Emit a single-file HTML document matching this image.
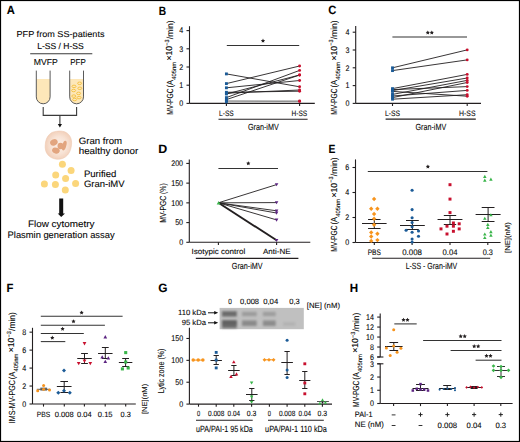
<!DOCTYPE html><html><head><meta charset="utf-8"><style>html,body{margin:0;padding:0;background:#fff;}svg{display:block;}text{font-family:"Liberation Sans", sans-serif;text-rendering:geometricPrecision;stroke:#231f20;stroke-width:0.1px;}</style></head><body>
<svg width="520" height="442" viewBox="0 0 520 442">
<rect x="0" y="0" width="520" height="442" fill="#fff"/>
<text x="6.82" y="14.4" font-size="12" font-weight="bold" textLength="8.08" lengthAdjust="spacingAndGlyphs">A</text>
<text x="60.5" y="36.9" font-size="8.6" text-anchor="middle" textLength="88" lengthAdjust="spacingAndGlyphs">PFP from SS-patients</text>
<text x="60.5" y="48.6" font-size="8.6" text-anchor="middle" textLength="46.5" lengthAdjust="spacingAndGlyphs">L-SS / H-SS</text>
<line x1="30.2" y1="53.8" x2="92.3" y2="53.8" stroke="#3a3a3a" stroke-width="1.1"/>
<text x="45.7" y="65.2" font-size="8.6" text-anchor="middle" textLength="24" lengthAdjust="spacingAndGlyphs">MVFP</text>
<text x="78" y="65.2" font-size="8.6" text-anchor="middle" textLength="15.5" lengthAdjust="spacingAndGlyphs">PFP</text>
<path d="M36.3 79L36.3 96.9A6.9 6.9 0 0 0 50.1 96.9L50.1 79Z" fill="#fde7b9"/>
<path d="M36.3 70.6L36.3 96.9A6.9 6.9 0 0 0 50.1 96.9L50.1 70.6" fill="none" stroke="#5a5a5a" stroke-width="1"/>
<path d="M69.7 79L69.7 96.9A6.9 6.9 0 0 0 83.5 96.9L83.5 79Z" fill="#fde7b9"/>
<path d="M69.7 70.6L69.7 96.9A6.9 6.9 0 0 0 83.5 96.9L83.5 70.6" fill="none" stroke="#5a5a5a" stroke-width="1"/>
<ellipse cx="79.6" cy="83.3" rx="2.0" ry="1.25" fill="none" stroke="#f3bd36" stroke-width="0.85"/>
<ellipse cx="74" cy="86.4" rx="2.0" ry="1.25" fill="none" stroke="#f3bd36" stroke-width="0.85"/>
<ellipse cx="79.8" cy="88.3" rx="2.0" ry="1.25" fill="none" stroke="#f3bd36" stroke-width="0.85"/>
<ellipse cx="73.6" cy="90.5" rx="2.0" ry="1.25" fill="none" stroke="#f3bd36" stroke-width="0.85"/>
<ellipse cx="78.6" cy="93.4" rx="2.0" ry="1.25" fill="none" stroke="#f3bd36" stroke-width="0.85"/>
<ellipse cx="73.8" cy="96.1" rx="2.0" ry="1.25" fill="none" stroke="#f3bd36" stroke-width="0.85"/>
<ellipse cx="79.1" cy="97.6" rx="2.0" ry="1.25" fill="none" stroke="#f3bd36" stroke-width="0.85"/>
<ellipse cx="74.7" cy="99.5" rx="2.0" ry="1.25" fill="none" stroke="#f3bd36" stroke-width="0.85"/>
<path d="M43.2 107V115.4H76.6V107M59.9 115.4V124.2" fill="none" stroke="#3a3a3a" stroke-width="1.1"/>
<path d="M57.8 124H62L59.9 127.6Z" fill="#111"/>
<defs><radialGradient id="cg" cx="0.52" cy="0.5" r="0.55"><stop offset="0" stop-color="#fcf1ea"/><stop offset="0.55" stop-color="#f8e3d5"/><stop offset="1" stop-color="#f1cdb6"/></radialGradient><filter id="cb" x="-10%" y="-10%" width="120%" height="120%"><feGaussianBlur stdDeviation="0.35"/></filter></defs>
<path d="M56 131.4C60 130.6 64.5 131 67.5 133.4C70.5 135.8 71.8 139.5 71.6 143.2C71.4 147.5 70.4 151.8 67.6 155C64.8 158.2 60.6 159.6 56.6 159.2C52.4 158.8 48.6 156.6 46.6 153C44.8 149.8 45 145.6 45.6 141.8C46.4 137.8 48.6 134.4 51.8 132.6C53.1 131.9 54.5 131.6 56 131.4Z" fill="url(#cg)" stroke="#efcab2" stroke-width="0.6" filter="url(#cb)"/>
<g filter="url(#cb)" fill="#e2a57f">
<ellipse cx="53.9" cy="142.4" rx="3.9" ry="3.1" transform="rotate(-25 53.9 142.4)"/>
<ellipse cx="55.9" cy="150.6" rx="3.9" ry="2.9" transform="rotate(15 55.9 150.6)"/>
<ellipse cx="60.5" cy="146" rx="3" ry="3.2" transform="rotate(0 60.5 146)"/>
<ellipse cx="64.3" cy="145.6" rx="2" ry="5" transform="rotate(15 64.3 145.6)"/>
</g>
<text x="78.7" y="143.9" font-size="9.4" textLength="43.4" lengthAdjust="spacingAndGlyphs">Gran from</text>
<text x="78.7" y="154.3" font-size="9.4" textLength="59.6" lengthAdjust="spacingAndGlyphs">healthy donor</text>
<circle cx="62.4" cy="164.3" r="3.5" fill="#fbd67b"/>
<circle cx="71.1" cy="170.4" r="3.5" fill="#fbd67b"/>
<circle cx="55.7" cy="174.9" r="3.5" fill="#fbd67b"/>
<circle cx="65.6" cy="178.6" r="3.5" fill="#fbd67b"/>
<circle cx="44.4" cy="184" r="3.5" fill="#fbd67b"/>
<circle cx="55.4" cy="184.6" r="3.5" fill="#fbd67b"/>
<circle cx="75.6" cy="183.4" r="3.5" fill="#fbd67b"/>
<circle cx="65.3" cy="190.1" r="3.5" fill="#fbd67b"/>
<text x="83.9" y="176.6" font-size="9.4" textLength="32.4" lengthAdjust="spacingAndGlyphs">Purified</text>
<text x="83.9" y="187.4" font-size="9.4" textLength="40.6" lengthAdjust="spacingAndGlyphs">Gran-iMV</text>
<path d="M59.2 198.4H63.2V213.4H65L61.2 216.9L57.7 213.4H59.2Z" fill="#111"/>
<text x="61.2" y="226.9" font-size="9.3" text-anchor="middle" textLength="66.5" lengthAdjust="spacingAndGlyphs">Flow cytometry</text>
<text x="61.1" y="237.6" font-size="9.3" text-anchor="middle" textLength="107" lengthAdjust="spacingAndGlyphs">Plasmin generation assay</text>
<text x="158.82" y="14.5" font-size="12" font-weight="bold" textLength="7.35" lengthAdjust="spacingAndGlyphs">B</text>
<line x1="189.5" y1="26.2" x2="189.5" y2="103.4" stroke="#231f20" stroke-width="1.1"/>
<line x1="186.5" y1="103.4" x2="189.5" y2="103.4" stroke="#231f20" stroke-width="1.1"/>
<text x="183.3" y="106.2" font-size="8.2" text-anchor="end" textLength="3.97" lengthAdjust="spacingAndGlyphs">0</text>
<line x1="186.5" y1="85.2" x2="189.5" y2="85.2" stroke="#231f20" stroke-width="1.1"/>
<text x="183.3" y="88" font-size="8.2" text-anchor="end" textLength="3.97" lengthAdjust="spacingAndGlyphs">1</text>
<line x1="186.5" y1="67" x2="189.5" y2="67" stroke="#231f20" stroke-width="1.1"/>
<text x="183.3" y="69.8" font-size="8.2" text-anchor="end" textLength="3.97" lengthAdjust="spacingAndGlyphs">2</text>
<line x1="186.5" y1="48.8" x2="189.5" y2="48.8" stroke="#231f20" stroke-width="1.1"/>
<text x="183.3" y="51.6" font-size="8.2" text-anchor="end" textLength="3.97" lengthAdjust="spacingAndGlyphs">3</text>
<line x1="186.5" y1="30.6" x2="189.5" y2="30.6" stroke="#231f20" stroke-width="1.1"/>
<text x="183.3" y="33.4" font-size="8.2" text-anchor="end" textLength="3.97" lengthAdjust="spacingAndGlyphs">4</text>
<line x1="189.5" y1="103.4" x2="314.8" y2="103.4" stroke="#231f20" stroke-width="1.1"/>
<line x1="226.4" y1="103.4" x2="226.4" y2="106" stroke="#231f20" stroke-width="1.1"/>
<line x1="299.6" y1="103.4" x2="299.6" y2="106" stroke="#231f20" stroke-width="1.1"/>
<text x="172.6" y="114.7" font-size="8.8" transform="rotate(-90 172.6 114.7)" textLength="26.2" lengthAdjust="spacingAndGlyphs">MV-PGC</text>
<text x="172.6" y="87.5" font-size="8.8" transform="rotate(-90 172.6 87.5)" textLength="7.6" lengthAdjust="spacingAndGlyphs">(A</text>
<text x="176" y="79.8" font-size="6" transform="rotate(-90 176 79.8)" textLength="18" lengthAdjust="spacingAndGlyphs">405nm</text>
<text x="172.3" y="60.6" font-size="8.8" transform="rotate(-90 172.3 60.6)" textLength="14.5" lengthAdjust="spacingAndGlyphs">×10</text>
<text x="169.2" y="45.7" font-size="6" transform="rotate(-90 169.2 45.7)" textLength="6.3" lengthAdjust="spacingAndGlyphs">−3</text>
<text x="172.6" y="39.2" font-size="8.8" transform="rotate(-90 172.6 39.2)" textLength="18.8" lengthAdjust="spacingAndGlyphs">/min)</text>
<line x1="226.8" y1="45.4" x2="299.2" y2="45.4" stroke="#333" stroke-width="1.05"/>
<polygon points="263,38.6 263.65,39.91 265.09,40.12 264.05,41.14 264.29,42.58 263,41.9 261.71,42.58 261.95,41.14 260.91,40.12 262.35,39.91" fill="#231f20"/>
<text x="226.4" y="115.6" font-size="7.8" text-anchor="middle" textLength="14.6" lengthAdjust="spacingAndGlyphs">L-SS</text>
<text x="299.4" y="115.6" font-size="7.8" text-anchor="middle" textLength="15.6" lengthAdjust="spacingAndGlyphs">H-SS</text>
<line x1="218.5" y1="119.2" x2="307.6" y2="119.2" stroke="#231f20" stroke-width="1.1"/>
<text x="263.3" y="129.8" font-size="9" text-anchor="middle" textLength="30.8" lengthAdjust="spacingAndGlyphs">Gran-iMV</text>
<line x1="226.4" y1="73.9" x2="299.6" y2="86.8" stroke="#231f20" stroke-width="0.9"/>
<line x1="226.4" y1="83.6" x2="299.6" y2="66" stroke="#231f20" stroke-width="0.9"/>
<line x1="226.4" y1="87.8" x2="299.6" y2="80.5" stroke="#231f20" stroke-width="0.9"/>
<line x1="226.4" y1="92.3" x2="299.6" y2="91.2" stroke="#231f20" stroke-width="0.9"/>
<line x1="226.4" y1="93.2" x2="299.6" y2="90" stroke="#231f20" stroke-width="0.9"/>
<line x1="226.4" y1="94" x2="299.6" y2="75" stroke="#231f20" stroke-width="0.9"/>
<line x1="226.4" y1="97.6" x2="299.6" y2="70.4" stroke="#231f20" stroke-width="0.9"/>
<line x1="226.4" y1="99.6" x2="299.6" y2="75" stroke="#231f20" stroke-width="0.9"/>
<line x1="226.4" y1="100.8" x2="299.6" y2="101" stroke="#8a8a8a" stroke-width="0.9"/>
<line x1="226.4" y1="101.8" x2="299.6" y2="101.4" stroke="#8a8a8a" stroke-width="0.9"/>
<rect x="224.97" y="72.47" width="2.86" height="2.86" fill="#1b5b97"/>
<rect x="224.97" y="82.17" width="2.86" height="2.86" fill="#1b5b97"/>
<rect x="224.97" y="86.37" width="2.86" height="2.86" fill="#1b5b97"/>
<rect x="224.97" y="90.87" width="2.86" height="2.86" fill="#1b5b97"/>
<rect x="224.97" y="91.77" width="2.86" height="2.86" fill="#1b5b97"/>
<rect x="224.97" y="92.57" width="2.86" height="2.86" fill="#1b5b97"/>
<rect x="224.97" y="96.17" width="2.86" height="2.86" fill="#1b5b97"/>
<rect x="224.97" y="98.17" width="2.86" height="2.86" fill="#1b5b97"/>
<rect x="224.97" y="99.37" width="2.86" height="2.86" fill="#1b5b97"/>
<rect x="224.97" y="100.37" width="2.86" height="2.86" fill="#1b5b97"/>
<circle cx="299.6" cy="86.8" r="1.45" fill="#c8102e"/>
<circle cx="299.6" cy="66" r="1.45" fill="#c8102e"/>
<circle cx="299.6" cy="80.5" r="1.45" fill="#c8102e"/>
<circle cx="299.6" cy="91.2" r="1.45" fill="#c8102e"/>
<circle cx="299.6" cy="90" r="1.45" fill="#c8102e"/>
<circle cx="299.6" cy="75" r="1.45" fill="#c8102e"/>
<circle cx="299.6" cy="70.4" r="1.45" fill="#c8102e"/>
<circle cx="299.6" cy="75" r="1.45" fill="#c8102e"/>
<circle cx="299.6" cy="101" r="1.45" fill="#c8102e"/>
<circle cx="299.6" cy="101.4" r="1.45" fill="#c8102e"/>
<text x="328.24" y="14.4" font-size="12" font-weight="bold" textLength="8.07" lengthAdjust="spacingAndGlyphs">C</text>
<line x1="355.7" y1="26" x2="355.7" y2="103.4" stroke="#231f20" stroke-width="1.1"/>
<line x1="352.7" y1="103.4" x2="355.7" y2="103.4" stroke="#231f20" stroke-width="1.1"/>
<text x="349.5" y="106.2" font-size="8.2" text-anchor="end" textLength="3.97" lengthAdjust="spacingAndGlyphs">0</text>
<line x1="352.7" y1="85.6" x2="355.7" y2="85.6" stroke="#231f20" stroke-width="1.1"/>
<text x="349.5" y="88.4" font-size="8.2" text-anchor="end" textLength="3.97" lengthAdjust="spacingAndGlyphs">1</text>
<line x1="352.7" y1="67.8" x2="355.7" y2="67.8" stroke="#231f20" stroke-width="1.1"/>
<text x="349.5" y="70.6" font-size="8.2" text-anchor="end" textLength="3.97" lengthAdjust="spacingAndGlyphs">2</text>
<line x1="352.7" y1="50" x2="355.7" y2="50" stroke="#231f20" stroke-width="1.1"/>
<text x="349.5" y="52.8" font-size="8.2" text-anchor="end" textLength="3.97" lengthAdjust="spacingAndGlyphs">3</text>
<line x1="352.7" y1="32.2" x2="355.7" y2="32.2" stroke="#231f20" stroke-width="1.1"/>
<text x="349.5" y="35" font-size="8.2" text-anchor="end" textLength="3.97" lengthAdjust="spacingAndGlyphs">4</text>
<line x1="355.7" y1="103.4" x2="481" y2="103.4" stroke="#231f20" stroke-width="1.1"/>
<line x1="392.5" y1="103.4" x2="392.5" y2="106" stroke="#231f20" stroke-width="1.1"/>
<line x1="467.2" y1="103.4" x2="467.2" y2="106" stroke="#231f20" stroke-width="1.1"/>
<text x="336.9" y="114.7" font-size="8.8" transform="rotate(-90 336.9 114.7)" textLength="26.2" lengthAdjust="spacingAndGlyphs">MV-PGC</text>
<text x="336.9" y="87.5" font-size="8.8" transform="rotate(-90 336.9 87.5)" textLength="7.6" lengthAdjust="spacingAndGlyphs">(A</text>
<text x="340.3" y="79.8" font-size="6" transform="rotate(-90 340.3 79.8)" textLength="18" lengthAdjust="spacingAndGlyphs">405nm</text>
<text x="336.6" y="60.6" font-size="8.8" transform="rotate(-90 336.6 60.6)" textLength="14.5" lengthAdjust="spacingAndGlyphs">×10</text>
<text x="333.5" y="45.7" font-size="6" transform="rotate(-90 333.5 45.7)" textLength="6.3" lengthAdjust="spacingAndGlyphs">−3</text>
<text x="336.9" y="39.2" font-size="8.8" transform="rotate(-90 336.9 39.2)" textLength="18.8" lengthAdjust="spacingAndGlyphs">/min)</text>
<line x1="392.4" y1="36.9" x2="467" y2="36.9" stroke="#333" stroke-width="1.05"/>
<polygon points="427.8,30.4 428.45,31.71 429.89,31.92 428.85,32.94 429.09,34.38 427.8,33.7 426.51,34.38 426.75,32.94 425.71,31.92 427.15,31.71" fill="#231f20"/>
<polygon points="431.8,30.4 432.45,31.71 433.89,31.92 432.85,32.94 433.09,34.38 431.8,33.7 430.51,34.38 430.75,32.94 429.71,31.92 431.15,31.71" fill="#231f20"/>
<text x="392.5" y="115.6" font-size="7.8" text-anchor="middle" textLength="15" lengthAdjust="spacingAndGlyphs">L-SS</text>
<text x="467.3" y="115.6" font-size="7.8" text-anchor="middle" textLength="16.4" lengthAdjust="spacingAndGlyphs">H-SS</text>
<line x1="385.6" y1="119.1" x2="475.8" y2="119.1" stroke="#231f20" stroke-width="1.1"/>
<text x="430.8" y="129.8" font-size="9" text-anchor="middle" textLength="30.8" lengthAdjust="spacingAndGlyphs">Gran-iMV</text>
<line x1="392.5" y1="67.8" x2="467.2" y2="49.9" stroke="#231f20" stroke-width="0.9"/>
<line x1="392.5" y1="70.6" x2="467.2" y2="59.9" stroke="#231f20" stroke-width="0.9"/>
<line x1="392.5" y1="88.6" x2="467.2" y2="74.4" stroke="#231f20" stroke-width="0.9"/>
<line x1="392.5" y1="89.6" x2="467.2" y2="86.6" stroke="#231f20" stroke-width="0.9"/>
<line x1="392.5" y1="90.6" x2="467.2" y2="78" stroke="#231f20" stroke-width="0.9"/>
<line x1="392.5" y1="91.4" x2="467.2" y2="96.2" stroke="#231f20" stroke-width="0.9"/>
<line x1="392.5" y1="94.4" x2="467.2" y2="80.4" stroke="#231f20" stroke-width="0.9"/>
<line x1="392.5" y1="96" x2="467.2" y2="90.4" stroke="#231f20" stroke-width="0.9"/>
<line x1="392.5" y1="97.6" x2="467.2" y2="82.5" stroke="#231f20" stroke-width="0.9"/>
<line x1="392.5" y1="99.2" x2="467.2" y2="94.7" stroke="#231f20" stroke-width="0.9"/>
<rect x="391.07" y="66.37" width="2.86" height="2.86" fill="#1b5b97"/>
<rect x="391.07" y="69.17" width="2.86" height="2.86" fill="#1b5b97"/>
<rect x="391.07" y="87.17" width="2.86" height="2.86" fill="#1b5b97"/>
<rect x="391.07" y="88.17" width="2.86" height="2.86" fill="#1b5b97"/>
<rect x="391.07" y="89.17" width="2.86" height="2.86" fill="#1b5b97"/>
<rect x="391.07" y="89.97" width="2.86" height="2.86" fill="#1b5b97"/>
<rect x="391.07" y="92.97" width="2.86" height="2.86" fill="#1b5b97"/>
<rect x="391.07" y="94.57" width="2.86" height="2.86" fill="#1b5b97"/>
<rect x="391.07" y="96.17" width="2.86" height="2.86" fill="#1b5b97"/>
<rect x="391.07" y="97.77" width="2.86" height="2.86" fill="#1b5b97"/>
<circle cx="467.2" cy="49.9" r="1.45" fill="#c8102e"/>
<circle cx="467.2" cy="59.9" r="1.45" fill="#c8102e"/>
<circle cx="467.2" cy="74.4" r="1.45" fill="#c8102e"/>
<circle cx="467.2" cy="86.6" r="1.45" fill="#c8102e"/>
<circle cx="467.2" cy="78" r="1.45" fill="#c8102e"/>
<circle cx="467.2" cy="96.2" r="1.45" fill="#c8102e"/>
<circle cx="467.2" cy="80.4" r="1.45" fill="#c8102e"/>
<circle cx="467.2" cy="90.4" r="1.45" fill="#c8102e"/>
<circle cx="467.2" cy="82.5" r="1.45" fill="#c8102e"/>
<circle cx="467.2" cy="94.7" r="1.45" fill="#c8102e"/>
<text x="158.27" y="153.1" font-size="12" font-weight="bold" textLength="8.97" lengthAdjust="spacingAndGlyphs">D</text>
<line x1="189.3" y1="159.4" x2="189.3" y2="242.3" stroke="#231f20" stroke-width="1.1"/>
<line x1="186.3" y1="242.3" x2="189.3" y2="242.3" stroke="#231f20" stroke-width="1.1"/>
<text x="183.1" y="245.1" font-size="8.2" text-anchor="end" textLength="3.97" lengthAdjust="spacingAndGlyphs">0</text>
<line x1="186.3" y1="222.58" x2="189.3" y2="222.58" stroke="#231f20" stroke-width="1.1"/>
<text x="183.1" y="225.38" font-size="8.2" text-anchor="end" textLength="7.93" lengthAdjust="spacingAndGlyphs">50</text>
<line x1="186.3" y1="202.86" x2="189.3" y2="202.86" stroke="#231f20" stroke-width="1.1"/>
<text x="183.1" y="205.66" font-size="8.2" text-anchor="end" textLength="11.9" lengthAdjust="spacingAndGlyphs">100</text>
<line x1="186.3" y1="183.14" x2="189.3" y2="183.14" stroke="#231f20" stroke-width="1.1"/>
<text x="183.1" y="185.94" font-size="8.2" text-anchor="end" textLength="11.9" lengthAdjust="spacingAndGlyphs">150</text>
<line x1="186.3" y1="163.42" x2="189.3" y2="163.42" stroke="#231f20" stroke-width="1.1"/>
<text x="183.1" y="166.22" font-size="8.2" text-anchor="end" textLength="11.9" lengthAdjust="spacingAndGlyphs">200</text>
<line x1="189.3" y1="242.3" x2="310.3" y2="242.3" stroke="#231f20" stroke-width="1.1"/>
<line x1="218.4" y1="242.3" x2="218.4" y2="244.9" stroke="#231f20" stroke-width="1.1"/>
<line x1="276.6" y1="242.3" x2="276.6" y2="244.9" stroke="#231f20" stroke-width="1.1"/>
<text x="166.1" y="222.7" font-size="8.8" transform="rotate(-90 166.1 222.7)" textLength="39.4" lengthAdjust="spacingAndGlyphs">MV-PGC (%)</text>
<line x1="218.4" y1="168.5" x2="278" y2="168.5" stroke="#333" stroke-width="1.05"/>
<polygon points="248.3,161.2 248.95,162.51 250.39,162.72 249.35,163.74 249.59,165.18 248.3,164.5 247.01,165.18 247.25,163.74 246.21,162.72 247.65,162.51" fill="#231f20"/>
<text x="218.3" y="254.3" font-size="7.7" text-anchor="middle" textLength="53.8" lengthAdjust="spacingAndGlyphs">Isotypic control</text>
<text x="276.8" y="254.4" font-size="7.7" text-anchor="middle" textLength="27.6" lengthAdjust="spacingAndGlyphs">Anti-NE</text>
<line x1="195.8" y1="258.4" x2="298.4" y2="258.4" stroke="#231f20" stroke-width="1.1"/>
<text x="247.2" y="269.3" font-size="9" text-anchor="middle" textLength="30.8" lengthAdjust="spacingAndGlyphs">Gran-iMV</text>
<line x1="218.4" y1="202.8" x2="276.6" y2="184.6" stroke="#231f20" stroke-width="0.9"/>
<line x1="218.4" y1="202.8" x2="276.6" y2="202.6" stroke="#231f20" stroke-width="0.9"/>
<line x1="218.4" y1="202.8" x2="276.6" y2="210.8" stroke="#231f20" stroke-width="0.9"/>
<line x1="218.4" y1="202.8" x2="276.6" y2="213" stroke="#231f20" stroke-width="0.9"/>
<line x1="218.4" y1="202.8" x2="276.6" y2="219.9" stroke="#231f20" stroke-width="0.9"/>
<line x1="218.4" y1="202.8" x2="276.6" y2="240.3" stroke="#231f20" stroke-width="1.9"/>
<path d="M274.84 183.19L278.36 183.19L276.6 186.36Z" fill="#5c2482"/>
<path d="M274.84 201.19L278.36 201.19L276.6 204.36Z" fill="#5c2482"/>
<path d="M274.84 209.39L278.36 209.39L276.6 212.56Z" fill="#5c2482"/>
<path d="M274.84 211.59L278.36 211.59L276.6 214.76Z" fill="#5c2482"/>
<path d="M274.84 218.49L278.36 218.49L276.6 221.66Z" fill="#5c2482"/>
<path d="M274.84 238.89L278.36 238.89L276.6 242.06Z" fill="#5c2482"/>
<path d="M218.6 201.07L220.53 204.54L216.67 204.54Z" fill="#39b54a"/>
<text x="328.41" y="153.1" font-size="12" font-weight="bold" textLength="6.91" lengthAdjust="spacingAndGlyphs">E</text>
<line x1="355.5" y1="159.4" x2="355.5" y2="242.5" stroke="#231f20" stroke-width="1.1"/>
<line x1="352.5" y1="242.5" x2="355.5" y2="242.5" stroke="#231f20" stroke-width="1.1"/>
<text x="349.3" y="245.3" font-size="8.2" text-anchor="end" textLength="3.97" lengthAdjust="spacingAndGlyphs">0</text>
<line x1="352.5" y1="217.5" x2="355.5" y2="217.5" stroke="#231f20" stroke-width="1.1"/>
<text x="349.3" y="220.3" font-size="8.2" text-anchor="end" textLength="3.97" lengthAdjust="spacingAndGlyphs">2</text>
<line x1="352.5" y1="192.5" x2="355.5" y2="192.5" stroke="#231f20" stroke-width="1.1"/>
<text x="349.3" y="195.3" font-size="8.2" text-anchor="end" textLength="3.97" lengthAdjust="spacingAndGlyphs">4</text>
<line x1="352.5" y1="167.5" x2="355.5" y2="167.5" stroke="#231f20" stroke-width="1.1"/>
<text x="349.3" y="170.3" font-size="8.2" text-anchor="end" textLength="3.97" lengthAdjust="spacingAndGlyphs">6</text>
<line x1="355.5" y1="242.5" x2="500.6" y2="242.5" stroke="#231f20" stroke-width="1.1"/>
<line x1="374.3" y1="242.5" x2="374.3" y2="245.1" stroke="#231f20" stroke-width="1.1"/>
<line x1="412.1" y1="242.5" x2="412.1" y2="245.1" stroke="#231f20" stroke-width="1.1"/>
<line x1="450" y1="242.5" x2="450" y2="245.1" stroke="#231f20" stroke-width="1.1"/>
<line x1="487.8" y1="242.5" x2="487.8" y2="245.1" stroke="#231f20" stroke-width="1.1"/>
<text x="336.9" y="251.7" font-size="8.8" transform="rotate(-90 336.9 251.7)" textLength="26.2" lengthAdjust="spacingAndGlyphs">MV-PGC</text>
<text x="336.9" y="224.5" font-size="8.8" transform="rotate(-90 336.9 224.5)" textLength="7.6" lengthAdjust="spacingAndGlyphs">(A</text>
<text x="340.3" y="216.8" font-size="6" transform="rotate(-90 340.3 216.8)" textLength="18" lengthAdjust="spacingAndGlyphs">405nm</text>
<text x="336.6" y="197.6" font-size="8.8" transform="rotate(-90 336.6 197.6)" textLength="14.5" lengthAdjust="spacingAndGlyphs">×10</text>
<text x="333.5" y="182.7" font-size="6" transform="rotate(-90 333.5 182.7)" textLength="6.3" lengthAdjust="spacingAndGlyphs">−3</text>
<text x="336.9" y="176.2" font-size="8.8" transform="rotate(-90 336.9 176.2)" textLength="18.8" lengthAdjust="spacingAndGlyphs">/min)</text>
<line x1="367.8" y1="171.4" x2="487.4" y2="171.4" stroke="#333" stroke-width="1.05"/>
<polygon points="427.9,164.4 428.55,165.71 429.99,165.92 428.95,166.94 429.19,168.38 427.9,167.7 426.61,168.38 426.85,166.94 425.81,165.92 427.25,165.71" fill="#231f20"/>
<text x="374.3" y="254.6" font-size="8" text-anchor="middle" textLength="13.2" lengthAdjust="spacingAndGlyphs">PBS</text>
<text x="412.1" y="254.6" font-size="8" text-anchor="middle" textLength="19.8" lengthAdjust="spacingAndGlyphs">0.008</text>
<text x="450" y="254.6" font-size="8" text-anchor="middle" textLength="15" lengthAdjust="spacingAndGlyphs">0.04</text>
<text x="487.8" y="254.6" font-size="8" text-anchor="middle" textLength="10.2" lengthAdjust="spacingAndGlyphs">0.3</text>
<line x1="372.2" y1="258.3" x2="490.2" y2="258.3" stroke="#231f20" stroke-width="1.1"/>
<text x="431.4" y="269.4" font-size="9" text-anchor="middle" textLength="51.5" lengthAdjust="spacingAndGlyphs">L-SS -  Gran-iMV</text>
<text x="510.3" y="253" font-size="7.2" transform="rotate(-90 510.3 253)" textLength="30.8" lengthAdjust="spacingAndGlyphs">[NE](nM)</text>
<line x1="362" y1="223.5" x2="386.6" y2="223.5" stroke="#231f20" stroke-width="1"/>
<line x1="368.05" y1="219.5" x2="380.55" y2="219.5" stroke="#231f20" stroke-width="1"/>
<line x1="368.05" y1="228.5" x2="380.55" y2="228.5" stroke="#231f20" stroke-width="1"/>
<line x1="374.3" y1="219.5" x2="374.3" y2="228.5" stroke="#231f20" stroke-width="1"/>
<path d="M374.1 196.82L376.28 199L374.1 201.18L371.92 199Z" fill="#f7941d"/>
<path d="M371.2 206.62L373.38 208.8L371.2 210.98L369.02 208.8Z" fill="#f7941d"/>
<path d="M377.4 206.62L379.58 208.8L377.4 210.98L375.22 208.8Z" fill="#f7941d"/>
<path d="M374.1 211.82L376.28 214L374.1 216.18L371.92 214Z" fill="#f7941d"/>
<path d="M374.1 216.62L376.28 218.8L374.1 220.98L371.92 218.8Z" fill="#f7941d"/>
<path d="M374.1 222.52L376.28 224.7L374.1 226.88L371.92 224.7Z" fill="#f7941d"/>
<path d="M371.2 230.22L373.38 232.4L371.2 234.58L369.02 232.4Z" fill="#f7941d"/>
<path d="M377.4 231.62L379.58 233.8L377.4 235.98L375.22 233.8Z" fill="#f7941d"/>
<path d="M371.2 234.32L373.38 236.5L371.2 238.68L369.02 236.5Z" fill="#f7941d"/>
<path d="M371.2 238.72L373.38 240.9L371.2 243.08L369.02 240.9Z" fill="#f7941d"/>
<path d="M377.4 237.92L379.58 240.1L377.4 242.28L375.22 240.1Z" fill="#f7941d"/>
<line x1="400" y1="225.5" x2="424.8" y2="225.5" stroke="#231f20" stroke-width="1"/>
<line x1="406" y1="220.5" x2="418.8" y2="220.5" stroke="#231f20" stroke-width="1"/>
<line x1="406" y1="229.5" x2="418.8" y2="229.5" stroke="#231f20" stroke-width="1"/>
<line x1="412.4" y1="220.5" x2="412.4" y2="229.5" stroke="#231f20" stroke-width="1"/>
<circle cx="412.1" cy="190.3" r="1.55" fill="#1b5b97"/>
<circle cx="412.1" cy="209.6" r="1.55" fill="#1b5b97"/>
<circle cx="412.1" cy="217.7" r="1.55" fill="#1b5b97"/>
<circle cx="412.1" cy="222.5" r="1.55" fill="#1b5b97"/>
<circle cx="412.1" cy="226.8" r="1.55" fill="#1b5b97"/>
<circle cx="406.1" cy="230.2" r="1.55" fill="#1b5b97"/>
<circle cx="418.5" cy="231" r="1.55" fill="#1b5b97"/>
<circle cx="412.1" cy="232.3" r="1.55" fill="#1b5b97"/>
<circle cx="418.5" cy="236.3" r="1.55" fill="#1b5b97"/>
<circle cx="412.1" cy="239" r="1.55" fill="#1b5b97"/>
<circle cx="412.1" cy="242" r="1.55" fill="#1b5b97"/>
<line x1="437.55" y1="219.5" x2="462.45" y2="219.5" stroke="#231f20" stroke-width="1"/>
<line x1="443.8" y1="215.5" x2="456.2" y2="215.5" stroke="#231f20" stroke-width="1"/>
<line x1="443.8" y1="224.5" x2="456.2" y2="224.5" stroke="#231f20" stroke-width="1"/>
<line x1="450" y1="215.5" x2="450" y2="224.5" stroke="#231f20" stroke-width="1"/>
<rect x="448.51" y="183.21" width="2.97" height="2.97" fill="#c8102e"/>
<rect x="448.51" y="197.61" width="2.97" height="2.97" fill="#c8102e"/>
<rect x="448.51" y="211.11" width="2.97" height="2.97" fill="#c8102e"/>
<rect x="451.91" y="221.51" width="2.97" height="2.97" fill="#c8102e"/>
<rect x="445.51" y="224.71" width="2.97" height="2.97" fill="#c8102e"/>
<rect x="451.91" y="224.71" width="2.97" height="2.97" fill="#c8102e"/>
<rect x="457.71" y="222.31" width="2.97" height="2.97" fill="#c8102e"/>
<rect x="439.51" y="227.41" width="2.97" height="2.97" fill="#c8102e"/>
<rect x="457.71" y="227.41" width="2.97" height="2.97" fill="#c8102e"/>
<rect x="451.91" y="229.81" width="2.97" height="2.97" fill="#c8102e"/>
<rect x="445.51" y="232.51" width="2.97" height="2.97" fill="#c8102e"/>
<line x1="475.6" y1="214.5" x2="500.6" y2="214.5" stroke="#231f20" stroke-width="1"/>
<line x1="481.7" y1="207.5" x2="494.5" y2="207.5" stroke="#231f20" stroke-width="1"/>
<line x1="481.7" y1="221.5" x2="494.5" y2="221.5" stroke="#231f20" stroke-width="1"/>
<line x1="488.1" y1="207.5" x2="488.1" y2="221.5" stroke="#231f20" stroke-width="1"/>
<path d="M484.8 174.84L486.56 178.01L483.04 178.01Z" fill="#39b54a"/>
<path d="M484.8 178.54L486.56 181.71L483.04 181.71Z" fill="#39b54a"/>
<path d="M490.9 177.54L492.66 180.71L489.14 180.71Z" fill="#39b54a"/>
<path d="M490.9 213.14L492.66 216.31L489.14 216.31Z" fill="#39b54a"/>
<path d="M484.8 216.64L486.56 219.81L483.04 219.81Z" fill="#39b54a"/>
<path d="M487.8 222.74L489.56 225.91L486.04 225.91Z" fill="#39b54a"/>
<path d="M487.8 225.94L489.56 229.11L486.04 229.11Z" fill="#39b54a"/>
<path d="M490.9 230.04L492.66 233.21L489.14 233.21Z" fill="#39b54a"/>
<path d="M490.9 233.54L492.66 236.71L489.14 236.71Z" fill="#39b54a"/>
<path d="M484.8 232.44L486.56 235.61L483.04 235.61Z" fill="#39b54a"/>
<path d="M484.8 235.94L486.56 239.11L483.04 239.11Z" fill="#39b54a"/>
<text x="6.55" y="292.3" font-size="12" font-weight="bold" textLength="6.88" lengthAdjust="spacingAndGlyphs">F</text>
<line x1="32.5" y1="327.8" x2="32.5" y2="404" stroke="#231f20" stroke-width="1.1"/>
<line x1="29.5" y1="404" x2="32.5" y2="404" stroke="#231f20" stroke-width="1.1"/>
<text x="26.3" y="406.8" font-size="8.2" text-anchor="end" textLength="3.97" lengthAdjust="spacingAndGlyphs">0</text>
<line x1="29.5" y1="386.04" x2="32.5" y2="386.04" stroke="#231f20" stroke-width="1.1"/>
<text x="26.3" y="388.84" font-size="8.2" text-anchor="end" textLength="3.97" lengthAdjust="spacingAndGlyphs">2</text>
<line x1="29.5" y1="368.08" x2="32.5" y2="368.08" stroke="#231f20" stroke-width="1.1"/>
<text x="26.3" y="370.88" font-size="8.2" text-anchor="end" textLength="3.97" lengthAdjust="spacingAndGlyphs">4</text>
<line x1="29.5" y1="350.12" x2="32.5" y2="350.12" stroke="#231f20" stroke-width="1.1"/>
<text x="26.3" y="352.92" font-size="8.2" text-anchor="end" textLength="3.97" lengthAdjust="spacingAndGlyphs">6</text>
<line x1="29.5" y1="332.16" x2="32.5" y2="332.16" stroke="#231f20" stroke-width="1.1"/>
<text x="26.3" y="334.96" font-size="8.2" text-anchor="end" textLength="3.97" lengthAdjust="spacingAndGlyphs">8</text>
<line x1="32.5" y1="404" x2="135.8" y2="404" stroke="#231f20" stroke-width="1.1"/>
<line x1="43.5" y1="404" x2="43.5" y2="406.6" stroke="#231f20" stroke-width="1.1"/>
<line x1="64.3" y1="404" x2="64.3" y2="406.6" stroke="#231f20" stroke-width="1.1"/>
<line x1="84.4" y1="404" x2="84.4" y2="406.6" stroke="#231f20" stroke-width="1.1"/>
<line x1="105.2" y1="404" x2="105.2" y2="406.6" stroke="#231f20" stroke-width="1.1"/>
<line x1="125.7" y1="404" x2="125.7" y2="406.6" stroke="#231f20" stroke-width="1.1"/>
<text x="14.8" y="423.2" font-size="8.8" transform="rotate(-90 14.8 423.2)" textLength="43" lengthAdjust="spacingAndGlyphs">IMS-MV-PGC</text>
<text x="14.8" y="379.2" font-size="8.8" transform="rotate(-90 14.8 379.2)" textLength="7.6" lengthAdjust="spacingAndGlyphs">(A</text>
<text x="18.2" y="371.5" font-size="6" transform="rotate(-90 18.2 371.5)" textLength="18" lengthAdjust="spacingAndGlyphs">405nm</text>
<text x="14.5" y="352.3" font-size="8.8" transform="rotate(-90 14.5 352.3)" textLength="14.5" lengthAdjust="spacingAndGlyphs">×10</text>
<text x="11.4" y="337.4" font-size="6" transform="rotate(-90 11.4 337.4)" textLength="6.3" lengthAdjust="spacingAndGlyphs">−3</text>
<text x="14.8" y="330.9" font-size="8.8" transform="rotate(-90 14.8 330.9)" textLength="18.8" lengthAdjust="spacingAndGlyphs">/min)</text>
<line x1="40.8" y1="316.3" x2="122.6" y2="316.3" stroke="#333" stroke-width="1.05"/>
<polygon points="81.6,310.4 82.25,311.71 83.69,311.92 82.65,312.94 82.89,314.38 81.6,313.7 80.31,314.38 80.55,312.94 79.51,311.92 80.95,311.71" fill="#231f20"/>
<line x1="40.8" y1="325.3" x2="104.9" y2="325.3" stroke="#333" stroke-width="1.05"/>
<polygon points="73.5,319.2 74.15,320.51 75.59,320.72 74.55,321.74 74.79,323.18 73.5,322.5 72.21,323.18 72.45,321.74 71.41,320.72 72.85,320.51" fill="#231f20"/>
<line x1="40.8" y1="333.4" x2="83.8" y2="333.4" stroke="#333" stroke-width="1.05"/>
<polygon points="62.6,326.8 63.25,328.11 64.69,328.32 63.65,329.34 63.89,330.78 62.6,330.1 61.31,330.78 61.55,329.34 60.51,328.32 61.95,328.11" fill="#231f20"/>
<line x1="40.8" y1="341.6" x2="65.3" y2="341.6" stroke="#333" stroke-width="1.05"/>
<polygon points="52.3,335.6 52.95,336.91 54.39,337.12 53.35,338.14 53.59,339.58 52.3,338.9 51.01,339.58 51.25,338.14 50.21,337.12 51.65,336.91" fill="#231f20"/>
<text x="43.5" y="417" font-size="7.6" text-anchor="middle" textLength="13.5" lengthAdjust="spacingAndGlyphs">PBS</text>
<text x="64.3" y="417" font-size="7.6" text-anchor="middle" textLength="19" lengthAdjust="spacingAndGlyphs">0.008</text>
<text x="84.4" y="417" font-size="7.6" text-anchor="middle" textLength="14.6" lengthAdjust="spacingAndGlyphs">0.04</text>
<text x="105.2" y="417" font-size="7.6" text-anchor="middle" textLength="14.8" lengthAdjust="spacingAndGlyphs">0.15</text>
<text x="125.7" y="417" font-size="7.6" text-anchor="middle" textLength="10.2" lengthAdjust="spacingAndGlyphs">0.3</text>
<text x="147.2" y="414.1" font-size="7.2" transform="rotate(-90 147.2 414.1)" textLength="30.3" lengthAdjust="spacingAndGlyphs">[NE](nM)</text>
<rect x="40.3" y="387.6" width="6.8" height="3.0" fill="#6a6a6a"/>
<line x1="36.8" y1="389.3" x2="50.4" y2="389.3" stroke="#555" stroke-width="1"/>
<circle cx="37.7" cy="390.8" r="1.5" fill="#f7941d"/>
<circle cx="43.6" cy="385.5" r="1.5" fill="#f7941d"/>
<circle cx="43.6" cy="389.2" r="1.5" fill="#f7941d"/>
<circle cx="49.5" cy="390" r="1.5" fill="#f7941d"/>
<line x1="56.85" y1="386.5" x2="71.55" y2="386.5" stroke="#231f20" stroke-width="1"/>
<line x1="60.4" y1="381.5" x2="68" y2="381.5" stroke="#231f20" stroke-width="1"/>
<line x1="60.4" y1="392.5" x2="68" y2="392.5" stroke="#231f20" stroke-width="1"/>
<line x1="64.2" y1="381.5" x2="64.2" y2="392.5" stroke="#231f20" stroke-width="1"/>
<path d="M64 368.38L66.02 370.4L64 372.42L61.98 370.4Z" fill="#1b5b97"/>
<path d="M58.3 390.78L60.32 392.8L58.3 394.82L56.28 392.8Z" fill="#1b5b97"/>
<path d="M64 388.78L66.02 390.8L64 392.82L61.98 390.8Z" fill="#1b5b97"/>
<path d="M69.8 390.78L71.82 392.8L69.8 394.82L67.78 392.8Z" fill="#1b5b97"/>
<line x1="77.25" y1="358.5" x2="91.75" y2="358.5" stroke="#231f20" stroke-width="1"/>
<line x1="81.1" y1="353.5" x2="87.9" y2="353.5" stroke="#231f20" stroke-width="1"/>
<line x1="81.1" y1="363.5" x2="87.9" y2="363.5" stroke="#231f20" stroke-width="1"/>
<line x1="84.5" y1="353.5" x2="84.5" y2="363.5" stroke="#231f20" stroke-width="1"/>
<path d="M82.63 342.1L86.37 342.1L84.5 345.47Z" fill="#c8102e"/>
<path d="M76.83 362L80.57 362L78.7 365.37Z" fill="#c8102e"/>
<path d="M82.63 359.6L86.37 359.6L84.5 362.97Z" fill="#c8102e"/>
<path d="M88.43 362L92.17 362L90.3 365.37Z" fill="#c8102e"/>
<line x1="98.05" y1="353.5" x2="112.55" y2="353.5" stroke="#231f20" stroke-width="1"/>
<line x1="101.9" y1="347.5" x2="108.7" y2="347.5" stroke="#231f20" stroke-width="1"/>
<line x1="101.9" y1="358.5" x2="108.7" y2="358.5" stroke="#231f20" stroke-width="1"/>
<line x1="105.3" y1="347.5" x2="105.3" y2="358.5" stroke="#231f20" stroke-width="1"/>
<path d="M105.3 335.03L107.17 338.4L103.43 338.4Z" fill="#5c2482"/>
<path d="M102.2 355.23L104.07 358.6L100.33 358.6Z" fill="#5c2482"/>
<path d="M108.3 356.13L110.17 359.5L106.43 359.5Z" fill="#5c2482"/>
<path d="M105.3 359.73L107.17 363.1L103.43 363.1Z" fill="#5c2482"/>
<line x1="118.85" y1="362.5" x2="132.35" y2="362.5" stroke="#231f20" stroke-width="1"/>
<line x1="122.2" y1="358.5" x2="129" y2="358.5" stroke="#231f20" stroke-width="1"/>
<line x1="122.2" y1="366.5" x2="129" y2="366.5" stroke="#231f20" stroke-width="1"/>
<line x1="125.6" y1="358.5" x2="125.6" y2="366.5" stroke="#231f20" stroke-width="1"/>
<rect x="124.16" y="351.06" width="3.08" height="3.08" fill="#39b54a"/>
<rect x="120.86" y="367.36" width="3.08" height="3.08" fill="#39b54a"/>
<rect x="126.66" y="366.46" width="3.08" height="3.08" fill="#39b54a"/>
<rect x="124.16" y="360.46" width="3.08" height="3.08" fill="#39b54a"/>
<text x="158.21" y="292.1" font-size="12" font-weight="bold" textLength="9.23" lengthAdjust="spacingAndGlyphs">G</text>
<defs><filter id="bl" x="-20%" y="-50%" width="140%" height="200%"><feGaussianBlur stdDeviation="0.9"/></filter></defs>
<rect x="219.6" y="307.9" width="84.2" height="21.3" fill="#c0c0c0"/>
<g filter="url(#bl)">
<rect x="222.0" y="311.2" width="14.8" height="5.4" fill="#6c6c6c"/>
<rect x="222.0" y="320.0" width="14.8" height="8.2" fill="#707070"/>
<rect x="222.0" y="320.4" width="14.8" height="5.0" fill="#626262"/>
<rect x="242" y="311.8" width="14.7" height="4.4" fill="#9c9c9c"/>
<rect x="242" y="320.4" width="14.7" height="5.6" fill="#8a8a8a"/>
<rect x="262.9" y="311.8" width="12.8" height="4.4" fill="#9e9e9e"/>
<rect x="262.9" y="320.4" width="12.8" height="5.6" fill="#8c8c8c"/>
<rect x="283.0" y="322.0" width="12.4" height="4.0" fill="#b4b4b4"/>
</g>
<text x="230" y="304" font-size="7.6" text-anchor="middle" textLength="3.6" lengthAdjust="spacingAndGlyphs">0</text>
<text x="249.6" y="304" font-size="7.6" text-anchor="middle" textLength="19" lengthAdjust="spacingAndGlyphs">0,008</text>
<text x="270.7" y="304" font-size="7.6" text-anchor="middle" textLength="15" lengthAdjust="spacingAndGlyphs">0,04</text>
<text x="294.5" y="304" font-size="7.6" text-anchor="middle" textLength="10.5" lengthAdjust="spacingAndGlyphs">0,3</text>
<text x="306.8" y="307.9" font-size="7.6" textLength="33.2" lengthAdjust="spacingAndGlyphs">[NE] (nM)</text>
<text x="206" y="315.4" font-size="7.6" text-anchor="end" textLength="28" lengthAdjust="spacingAndGlyphs">110 kDa</text>
<text x="206" y="325.4" font-size="7.6" text-anchor="end" textLength="24.3" lengthAdjust="spacingAndGlyphs">95 kDa</text>
<line x1="208" y1="312.8" x2="215" y2="312.8" stroke="#111" stroke-width="1"/>
<path d="M214.2 311L218.2 312.8L214.2 314.6Z" fill="#111"/>
<line x1="208" y1="322.8" x2="215" y2="322.8" stroke="#111" stroke-width="1"/>
<path d="M214.2 321L218.2 322.8L214.2 324.6Z" fill="#111"/>
<line x1="189.4" y1="327.7" x2="189.4" y2="404.1" stroke="#231f20" stroke-width="1.1"/>
<line x1="186.4" y1="404.1" x2="189.4" y2="404.1" stroke="#231f20" stroke-width="1.1"/>
<text x="183.2" y="406.9" font-size="8.2" text-anchor="end" textLength="3.97" lengthAdjust="spacingAndGlyphs">0</text>
<line x1="186.4" y1="382.23" x2="189.4" y2="382.23" stroke="#231f20" stroke-width="1.1"/>
<text x="183.2" y="385.03" font-size="8.2" text-anchor="end" textLength="7.93" lengthAdjust="spacingAndGlyphs">50</text>
<line x1="186.4" y1="360.35" x2="189.4" y2="360.35" stroke="#231f20" stroke-width="1.1"/>
<text x="183.2" y="363.15" font-size="8.2" text-anchor="end" textLength="11.9" lengthAdjust="spacingAndGlyphs">100</text>
<line x1="186.4" y1="338.48" x2="189.4" y2="338.48" stroke="#231f20" stroke-width="1.1"/>
<text x="183.2" y="341.28" font-size="8.2" text-anchor="end" textLength="11.9" lengthAdjust="spacingAndGlyphs">150</text>
<line x1="189.4" y1="404.1" x2="332" y2="404.1" stroke="#231f20" stroke-width="1.1"/>
<line x1="198.5" y1="404.1" x2="198.5" y2="406.7" stroke="#231f20" stroke-width="1.1"/>
<line x1="216.2" y1="404.1" x2="216.2" y2="406.7" stroke="#231f20" stroke-width="1.1"/>
<line x1="233.8" y1="404.1" x2="233.8" y2="406.7" stroke="#231f20" stroke-width="1.1"/>
<line x1="251.6" y1="404.1" x2="251.6" y2="406.7" stroke="#231f20" stroke-width="1.1"/>
<line x1="269.4" y1="404.1" x2="269.4" y2="406.7" stroke="#231f20" stroke-width="1.1"/>
<line x1="287.1" y1="404.1" x2="287.1" y2="406.7" stroke="#231f20" stroke-width="1.1"/>
<line x1="304.8" y1="404.1" x2="304.8" y2="406.7" stroke="#231f20" stroke-width="1.1"/>
<line x1="322.4" y1="404.1" x2="322.4" y2="406.7" stroke="#231f20" stroke-width="1.1"/>
<text x="164" y="393.2" font-size="8.8" transform="rotate(-90 164 393.2)" textLength="44.6" lengthAdjust="spacingAndGlyphs">Lytic zone (%)</text>
<text x="198.5" y="415.9" font-size="7.6" text-anchor="middle" textLength="3.2" lengthAdjust="spacingAndGlyphs">0</text>
<text x="216.2" y="415.9" font-size="7.6" text-anchor="middle" textLength="16.4" lengthAdjust="spacingAndGlyphs">0.008</text>
<text x="233.8" y="415.9" font-size="7.6" text-anchor="middle" textLength="12.4" lengthAdjust="spacingAndGlyphs">0.04</text>
<text x="251.6" y="415.9" font-size="7.6" text-anchor="middle" textLength="9.6" lengthAdjust="spacingAndGlyphs">0.3</text>
<text x="269.4" y="415.9" font-size="7.6" text-anchor="middle" textLength="3.2" lengthAdjust="spacingAndGlyphs">0</text>
<text x="287.1" y="415.9" font-size="7.6" text-anchor="middle" textLength="16.4" lengthAdjust="spacingAndGlyphs">0.008</text>
<text x="304.8" y="415.9" font-size="7.6" text-anchor="middle" textLength="12.4" lengthAdjust="spacingAndGlyphs">0.04</text>
<text x="322.4" y="415.9" font-size="7.6" text-anchor="middle" textLength="9.6" lengthAdjust="spacingAndGlyphs">0.3</text>
<line x1="196" y1="420.3" x2="252.7" y2="420.3" stroke="#231f20" stroke-width="1.1"/>
<line x1="268" y1="420.3" x2="323.8" y2="420.3" stroke="#231f20" stroke-width="1.1"/>
<text x="224.4" y="431.9" font-size="9" text-anchor="middle" textLength="56.8" lengthAdjust="spacingAndGlyphs">uPA/PAI-1 95 kDa</text>
<text x="296" y="431.9" font-size="9" text-anchor="middle" textLength="61.8" lengthAdjust="spacingAndGlyphs">uPA/PAI-1 110 kDa</text>
<circle cx="193.2" cy="360.1" r="1.75" fill="#f7941d"/>
<circle cx="198.2" cy="360.1" r="1.75" fill="#f7941d"/>
<circle cx="202.9" cy="360.1" r="1.75" fill="#f7941d"/>
<line x1="193.2" y1="360.1" x2="202.9" y2="360.1" stroke="#f7941d" stroke-width="1"/>
<line x1="210.5" y1="360.5" x2="221.9" y2="360.5" stroke="#231f20" stroke-width="1"/>
<line x1="213.55" y1="355.5" x2="218.85" y2="355.5" stroke="#231f20" stroke-width="1"/>
<line x1="213.55" y1="364.5" x2="218.85" y2="364.5" stroke="#231f20" stroke-width="1"/>
<line x1="216.2" y1="355.5" x2="216.2" y2="364.5" stroke="#231f20" stroke-width="1"/>
<rect x="214.77" y="350.97" width="2.86" height="2.86" fill="#1b5b97"/>
<rect x="214.77" y="358.67" width="2.86" height="2.86" fill="#1b5b97"/>
<rect x="214.77" y="366.47" width="2.86" height="2.86" fill="#1b5b97"/>
<line x1="228.1" y1="370.5" x2="239.7" y2="370.5" stroke="#231f20" stroke-width="1"/>
<line x1="231.25" y1="365.5" x2="236.55" y2="365.5" stroke="#231f20" stroke-width="1"/>
<line x1="231.25" y1="375.5" x2="236.55" y2="375.5" stroke="#231f20" stroke-width="1"/>
<line x1="233.9" y1="365.5" x2="233.9" y2="375.5" stroke="#231f20" stroke-width="1"/>
<path d="M233.8 360.14L235.56 363.31L232.04 363.31Z" fill="#c8102e"/>
<path d="M231 374.74L232.76 377.91L229.24 377.91Z" fill="#c8102e"/>
<path d="M236.5 372.24L238.26 375.41L234.74 375.41Z" fill="#c8102e"/>
<line x1="246" y1="394.5" x2="257.6" y2="394.5" stroke="#231f20" stroke-width="1"/>
<line x1="249.15" y1="388.5" x2="254.45" y2="388.5" stroke="#231f20" stroke-width="1"/>
<line x1="249.15" y1="400.5" x2="254.45" y2="400.5" stroke="#231f20" stroke-width="1"/>
<line x1="251.8" y1="388.5" x2="251.8" y2="400.5" stroke="#231f20" stroke-width="1"/>
<path d="M249.84 381.39L253.36 381.39L251.6 384.56Z" fill="#39b54a"/>
<path d="M249.84 395.59L253.36 395.59L251.6 398.76Z" fill="#39b54a"/>
<path d="M249.84 400.69L253.36 400.69L251.6 403.86Z" fill="#39b54a"/>
<path d="M264.5 357.9L266.4 359.8L264.5 361.7L262.6 359.8Z" fill="#f7941d"/>
<path d="M269 357.9L270.9 359.8L269 361.7L267.1 359.8Z" fill="#f7941d"/>
<path d="M273.6 357.9L275.5 359.8L273.6 361.7L271.7 359.8Z" fill="#f7941d"/>
<line x1="264.5" y1="359.8" x2="273.6" y2="359.8" stroke="#f7941d" stroke-width="1"/>
<line x1="281.3" y1="362.5" x2="292.9" y2="362.5" stroke="#231f20" stroke-width="1"/>
<line x1="284.45" y1="351.5" x2="289.75" y2="351.5" stroke="#231f20" stroke-width="1"/>
<line x1="284.45" y1="374.5" x2="289.75" y2="374.5" stroke="#231f20" stroke-width="1"/>
<line x1="287.1" y1="351.5" x2="287.1" y2="374.5" stroke="#231f20" stroke-width="1"/>
<circle cx="287.1" cy="340.3" r="1.5" fill="#1b5b97"/>
<circle cx="287.1" cy="370.1" r="1.5" fill="#1b5b97"/>
<circle cx="287.1" cy="377.4" r="1.5" fill="#1b5b97"/>
<line x1="299.2" y1="380.5" x2="310.4" y2="380.5" stroke="#231f20" stroke-width="1"/>
<line x1="302.15" y1="371.5" x2="307.45" y2="371.5" stroke="#231f20" stroke-width="1"/>
<line x1="302.15" y1="388.5" x2="307.45" y2="388.5" stroke="#231f20" stroke-width="1"/>
<line x1="304.8" y1="371.5" x2="304.8" y2="388.5" stroke="#231f20" stroke-width="1"/>
<rect x="303.37" y="362.37" width="2.86" height="2.86" fill="#c8102e"/>
<rect x="303.37" y="381.57" width="2.86" height="2.86" fill="#c8102e"/>
<rect x="303.37" y="392.37" width="2.86" height="2.86" fill="#c8102e"/>
<line x1="317" y1="401.5" x2="328.9" y2="401.5" stroke="#555" stroke-width="1"/>
<path d="M322.5 398.3L324.1 401.18L320.9 401.18Z" fill="#39b54a"/>
<path d="M319.9 401.6L321.5 404.48L318.3 404.48Z" fill="#39b54a"/>
<path d="M325.4 400.8L327 403.68L323.8 403.68Z" fill="#39b54a"/>
<circle cx="322.5" cy="402.5" r="0.9" fill="#222"/>
<text x="349.72" y="292.3" font-size="12" font-weight="bold" textLength="8.37" lengthAdjust="spacingAndGlyphs">H</text>
<line x1="380.2" y1="313.5" x2="380.2" y2="357" stroke="#231f20" stroke-width="1.1"/>
<line x1="377.2" y1="317.08" x2="380.2" y2="317.08" stroke="#231f20" stroke-width="1.1"/>
<text x="374" y="319.88" font-size="8.2" text-anchor="end" textLength="7.93" lengthAdjust="spacingAndGlyphs">14</text>
<line x1="377.2" y1="327.06" x2="380.2" y2="327.06" stroke="#231f20" stroke-width="1.1"/>
<text x="374" y="329.86" font-size="8.2" text-anchor="end" textLength="7.93" lengthAdjust="spacingAndGlyphs">12</text>
<line x1="377.2" y1="337.04" x2="380.2" y2="337.04" stroke="#231f20" stroke-width="1.1"/>
<text x="374" y="339.84" font-size="8.2" text-anchor="end" textLength="7.93" lengthAdjust="spacingAndGlyphs">10</text>
<line x1="377.2" y1="347.02" x2="380.2" y2="347.02" stroke="#231f20" stroke-width="1.1"/>
<text x="374" y="349.82" font-size="8.2" text-anchor="end" textLength="3.97" lengthAdjust="spacingAndGlyphs">8</text>
<line x1="377.2" y1="357" x2="380.2" y2="357" stroke="#231f20" stroke-width="1.1"/>
<text x="374" y="359.8" font-size="8.2" text-anchor="end" textLength="3.97" lengthAdjust="spacingAndGlyphs">6</text>
<line x1="377.2" y1="357" x2="383.4" y2="357" stroke="#231f20" stroke-width="1.1"/>
<line x1="380.2" y1="363.8" x2="380.2" y2="403.5" stroke="#231f20" stroke-width="1.1"/>
<line x1="377.2" y1="363.81" x2="380.2" y2="363.81" stroke="#231f20" stroke-width="1.1"/>
<text x="374" y="366.61" font-size="8.2" text-anchor="end" textLength="3.97" lengthAdjust="spacingAndGlyphs">3</text>
<line x1="377.2" y1="377.04" x2="380.2" y2="377.04" stroke="#231f20" stroke-width="1.1"/>
<text x="374" y="379.84" font-size="8.2" text-anchor="end" textLength="3.97" lengthAdjust="spacingAndGlyphs">2</text>
<line x1="377.2" y1="390.27" x2="380.2" y2="390.27" stroke="#231f20" stroke-width="1.1"/>
<text x="374" y="393.07" font-size="8.2" text-anchor="end" textLength="3.97" lengthAdjust="spacingAndGlyphs">1</text>
<line x1="377.2" y1="403.5" x2="380.2" y2="403.5" stroke="#231f20" stroke-width="1.1"/>
<text x="374" y="406.3" font-size="8.2" text-anchor="end" textLength="3.97" lengthAdjust="spacingAndGlyphs">0</text>
<line x1="377.2" y1="363.8" x2="383.4" y2="363.8" stroke="#231f20" stroke-width="1.1"/>
<line x1="380.2" y1="403.5" x2="512.6" y2="403.5" stroke="#231f20" stroke-width="1.1"/>
<line x1="393.6" y1="403.5" x2="393.6" y2="406.1" stroke="#231f20" stroke-width="1.1"/>
<line x1="420.5" y1="403.5" x2="420.5" y2="406.1" stroke="#231f20" stroke-width="1.1"/>
<line x1="447.4" y1="403.5" x2="447.4" y2="406.1" stroke="#231f20" stroke-width="1.1"/>
<line x1="474.1" y1="403.5" x2="474.1" y2="406.1" stroke="#231f20" stroke-width="1.1"/>
<line x1="500.8" y1="403.5" x2="500.8" y2="406.1" stroke="#231f20" stroke-width="1.1"/>
<text x="358.6" y="406.9" font-size="8.8" transform="rotate(-90 358.6 406.9)" textLength="26.2" lengthAdjust="spacingAndGlyphs">MV-PGC</text>
<text x="358.6" y="379.7" font-size="8.8" transform="rotate(-90 358.6 379.7)" textLength="7.6" lengthAdjust="spacingAndGlyphs">(A</text>
<text x="362" y="372" font-size="6" transform="rotate(-90 362 372)" textLength="18" lengthAdjust="spacingAndGlyphs">405nm</text>
<text x="358.3" y="352.8" font-size="8.8" transform="rotate(-90 358.3 352.8)" textLength="14.5" lengthAdjust="spacingAndGlyphs">×10</text>
<text x="355.2" y="337.9" font-size="6" transform="rotate(-90 355.2 337.9)" textLength="6.3" lengthAdjust="spacingAndGlyphs">−3</text>
<text x="358.6" y="331.4" font-size="8.8" transform="rotate(-90 358.6 331.4)" textLength="18.8" lengthAdjust="spacingAndGlyphs">/min)</text>
<text x="354.8" y="416.6" font-size="7.8" textLength="17.8" lengthAdjust="spacingAndGlyphs">PAI-1</text>
<text x="354.8" y="427.4" font-size="7.8" textLength="29" lengthAdjust="spacingAndGlyphs">NE (nM)</text>
<line x1="391.7" y1="414.9" x2="395.5" y2="414.9" stroke="#333" stroke-width="1"/>
<line x1="418.4" y1="414.6" x2="422.6" y2="414.6" stroke="#222" stroke-width="1"/>
<line x1="420.5" y1="412.5" x2="420.5" y2="416.7" stroke="#222" stroke-width="1"/>
<line x1="445.3" y1="414.6" x2="449.5" y2="414.6" stroke="#222" stroke-width="1"/>
<line x1="447.4" y1="412.5" x2="447.4" y2="416.7" stroke="#222" stroke-width="1"/>
<line x1="472" y1="414.6" x2="476.2" y2="414.6" stroke="#222" stroke-width="1"/>
<line x1="474.1" y1="412.5" x2="474.1" y2="416.7" stroke="#222" stroke-width="1"/>
<line x1="498.7" y1="414.6" x2="502.9" y2="414.6" stroke="#222" stroke-width="1"/>
<line x1="500.8" y1="412.5" x2="500.8" y2="416.7" stroke="#222" stroke-width="1"/>
<line x1="391.7" y1="425.5" x2="395.5" y2="425.5" stroke="#333" stroke-width="1"/>
<line x1="418.6" y1="425.5" x2="422.4" y2="425.5" stroke="#333" stroke-width="1"/>
<text x="447.4" y="427.5" font-size="7.8" text-anchor="middle" textLength="19.6" lengthAdjust="spacingAndGlyphs">0.008</text>
<text x="474.1" y="427.5" font-size="7.8" text-anchor="middle" textLength="15" lengthAdjust="spacingAndGlyphs">0.04</text>
<text x="500.8" y="427.5" font-size="7.8" text-anchor="middle" textLength="10.8" lengthAdjust="spacingAndGlyphs">0.3</text>
<line x1="394.3" y1="323.9" x2="416.7" y2="323.9" stroke="#333" stroke-width="1.05"/>
<polygon points="403.5,317.7 404.15,319.01 405.59,319.22 404.55,320.24 404.79,321.68 403.5,321 402.21,321.68 402.45,320.24 401.41,319.22 402.85,319.01" fill="#231f20"/>
<polygon points="407.5,317.7 408.15,319.01 409.59,319.22 408.55,320.24 408.79,321.68 407.5,321 406.21,321.68 406.45,320.24 405.41,319.22 406.85,319.01" fill="#231f20"/>
<line x1="423.1" y1="340.4" x2="501.5" y2="340.4" stroke="#333" stroke-width="1.05"/>
<polygon points="460.7,334.1 461.35,335.41 462.79,335.62 461.75,336.64 461.99,338.08 460.7,337.4 459.41,338.08 459.65,336.64 458.61,335.62 460.05,335.41" fill="#231f20"/>
<polygon points="464.7,334.1 465.35,335.41 466.79,335.62 465.75,336.64 465.99,338.08 464.7,337.4 463.41,338.08 463.65,336.64 462.61,335.62 464.05,335.41" fill="#231f20"/>
<line x1="450.6" y1="350.4" x2="501.5" y2="350.4" stroke="#333" stroke-width="1.05"/>
<polygon points="474.2,344.1 474.85,345.41 476.29,345.62 475.25,346.64 475.49,348.08 474.2,347.4 472.91,348.08 473.15,346.64 472.11,345.62 473.55,345.41" fill="#231f20"/>
<polygon points="478.2,344.1 478.85,345.41 480.29,345.62 479.25,346.64 479.49,348.08 478.2,347.4 476.91,348.08 477.15,346.64 476.11,345.62 477.55,345.41" fill="#231f20"/>
<line x1="475.6" y1="360.2" x2="501.5" y2="360.2" stroke="#333" stroke-width="1.05"/>
<polygon points="486.5,353.7 487.15,355.01 488.59,355.22 487.55,356.24 487.79,357.68 486.5,357 485.21,357.68 485.45,356.24 484.41,355.22 485.85,355.01" fill="#231f20"/>
<polygon points="490.5,353.7 491.15,355.01 492.59,355.22 491.55,356.24 491.79,357.68 490.5,357 489.21,357.68 489.45,356.24 488.41,355.22 489.85,355.01" fill="#231f20"/>
<line x1="385" y1="346.5" x2="402.6" y2="346.5" stroke="#231f20" stroke-width="1"/>
<line x1="389.45" y1="342.5" x2="398.15" y2="342.5" stroke="#231f20" stroke-width="1"/>
<line x1="389.45" y1="350.5" x2="398.15" y2="350.5" stroke="#231f20" stroke-width="1"/>
<line x1="393.8" y1="342.5" x2="393.8" y2="350.5" stroke="#231f20" stroke-width="1"/>
<circle cx="393.7" cy="329.7" r="1.5" fill="#f7941d"/>
<circle cx="386.4" cy="347.9" r="1.5" fill="#f7941d"/>
<circle cx="393.7" cy="346.1" r="1.5" fill="#f7941d"/>
<circle cx="400.9" cy="348.3" r="1.5" fill="#f7941d"/>
<circle cx="397.1" cy="352.3" r="1.5" fill="#f7941d"/>
<circle cx="390.2" cy="355.4" r="1.5" fill="#f7941d"/>
<line x1="412.5" y1="388.5" x2="428.5" y2="388.5" stroke="#231f20" stroke-width="1"/>
<line x1="416.05" y1="384.5" x2="424.95" y2="384.5" stroke="#231f20" stroke-width="1"/>
<line x1="416.05" y1="390.5" x2="424.95" y2="390.5" stroke="#231f20" stroke-width="1"/>
<line x1="420.5" y1="384.5" x2="420.5" y2="390.5" stroke="#231f20" stroke-width="1"/>
<rect x="411.54" y="389.24" width="2.53" height="2.53" fill="#5c2482"/>
<rect x="415.54" y="387.54" width="2.53" height="2.53" fill="#5c2482"/>
<rect x="419.24" y="382.84" width="2.53" height="2.53" fill="#5c2482"/>
<rect x="419.24" y="388.24" width="2.53" height="2.53" fill="#5c2482"/>
<rect x="422.94" y="388.24" width="2.53" height="2.53" fill="#5c2482"/>
<rect x="426.74" y="389.24" width="2.53" height="2.53" fill="#5c2482"/>
<line x1="439" y1="388.5" x2="455.4" y2="388.5" stroke="#231f20" stroke-width="1"/>
<line x1="443.2" y1="385.5" x2="451.2" y2="385.5" stroke="#231f20" stroke-width="1"/>
<line x1="443.2" y1="389.5" x2="451.2" y2="389.5" stroke="#231f20" stroke-width="1"/>
<line x1="447.2" y1="385.5" x2="447.2" y2="389.5" stroke="#231f20" stroke-width="1"/>
<circle cx="439.6" cy="389.6" r="1.05" fill="#1b5b97"/>
<circle cx="443.6" cy="389" r="1.05" fill="#1b5b97"/>
<circle cx="447.4" cy="388.6" r="1.05" fill="#1b5b97"/>
<circle cx="451.3" cy="389" r="1.05" fill="#1b5b97"/>
<circle cx="455" cy="388" r="1.05" fill="#1b5b97"/>
<circle cx="455" cy="390.2" r="1.05" fill="#1b5b97"/>
<line x1="466.6" y1="387.5" x2="481.6" y2="387.5" stroke="#231f20" stroke-width="1"/>
<line x1="470.6" y1="386.5" x2="477.6" y2="386.5" stroke="#231f20" stroke-width="1"/>
<line x1="470.6" y1="388.5" x2="477.6" y2="388.5" stroke="#231f20" stroke-width="1"/>
<line x1="474.1" y1="386.5" x2="474.1" y2="388.5" stroke="#231f20" stroke-width="1"/>
<path d="M466.6 386.06L467.94 387.4L466.6 388.74L465.26 387.4Z" fill="#c8102e"/>
<path d="M470.6 385.46L471.94 386.8L470.6 388.14L469.26 386.8Z" fill="#c8102e"/>
<path d="M474.1 386.26L475.44 387.6L474.1 388.94L472.76 387.6Z" fill="#c8102e"/>
<path d="M477.8 385.66L479.14 387L477.8 388.34L476.46 387Z" fill="#c8102e"/>
<path d="M481.8 386.06L483.14 387.4L481.8 388.74L480.46 387.4Z" fill="#c8102e"/>
<line x1="492.5" y1="370.5" x2="509.5" y2="370.5" stroke="#333" stroke-width="1"/>
<line x1="497" y1="366.5" x2="505" y2="366.5" stroke="#333" stroke-width="1"/>
<line x1="497" y1="376.5" x2="505" y2="376.5" stroke="#333" stroke-width="1"/>
<line x1="501" y1="366.5" x2="501" y2="376.5" stroke="#333" stroke-width="1"/>
<path d="M493.5 364.15L495.35 366L493.5 367.85L491.65 366Z" fill="#39b54a"/>
<path d="M501 364.65L502.85 366.5L501 368.35L499.15 366.5Z" fill="#39b54a"/>
<path d="M493.5 368.45L495.35 370.3L493.5 372.15L491.65 370.3Z" fill="#39b54a"/>
<path d="M501 368.45L502.85 370.3L501 372.15L499.15 370.3Z" fill="#39b54a"/>
<path d="M508.5 368.45L510.35 370.3L508.5 372.15L506.65 370.3Z" fill="#39b54a"/>
<path d="M501 375.45L502.85 377.3L501 379.15L499.15 377.3Z" fill="#39b54a"/>
<rect x="0.5" y="0.5" width="519" height="441" fill="none" stroke="#000" stroke-width="1.2"/>
</svg></body></html>
